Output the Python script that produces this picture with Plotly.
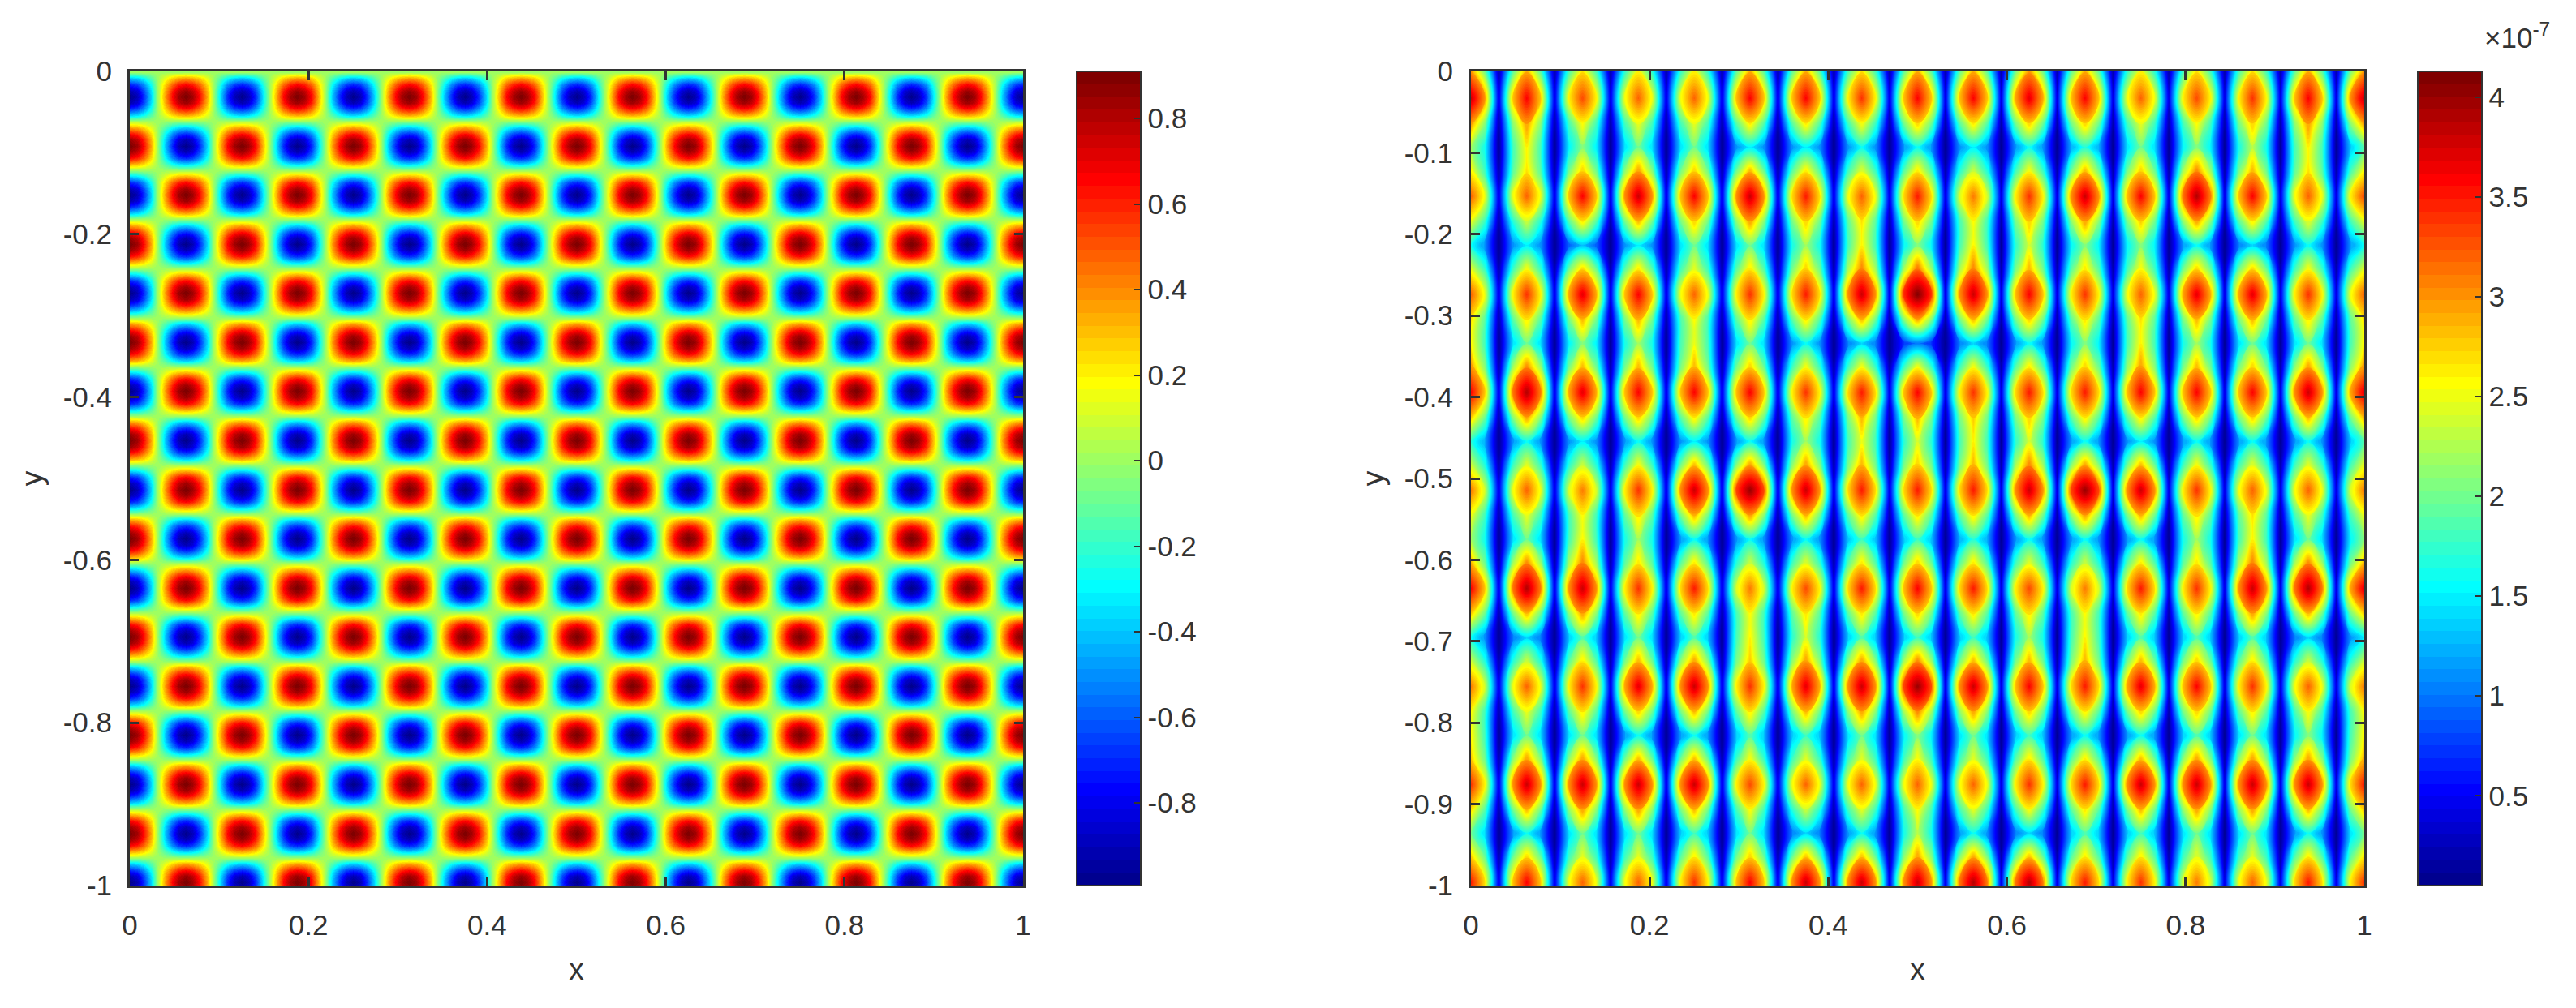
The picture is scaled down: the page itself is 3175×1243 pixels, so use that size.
"""Two jet heatmaps with colour bars: a checkerboard field and a wavy stripe field."""

import numpy as np
import plotly.graph_objects as go

# the page body adds 8 px on every side, so the figure is 16 px smaller than the window
WIDTH = 3159
HEIGHT = 1227
TEXT = "#333333"
FONT = "Liberation Sans"

x_ticks_left = [0, 0.2, 0.4, 0.6, 0.8, 1]
x_labels = ["0", "0.2", "0.4", "0.6", "0.8", "1"]
y_ticks_left = [0, -0.2, -0.4, -0.6, -0.8, -1]
y_labels_left = ["0", "-0.2", "-0.4", "-0.6", "-0.8", "-1"]
y_ticks_right = [0, -0.1, -0.2, -0.3, -0.4, -0.5, -0.6, -0.7, -0.8, -0.9, -1]
y_labels_right = ["0", "-0.1", "-0.2", "-0.3", "-0.4", "-0.5", "-0.6", "-0.7", "-0.8", "-0.9", "-1"]
cbar_ticks_left = [-0.8, -0.6, -0.4, -0.2, 0, 0.2, 0.4, 0.6, 0.8]
cbar_labels_left = ["-0.8", "-0.6", "-0.4", "-0.2", "0", "0.2", "0.4", "0.6", "0.8"]
cbar_ticks_right = [0.5, 1, 1.5, 2, 2.5, 3, 3.5, 4]
cbar_labels_right = ["0.5", "1", "1.5", "2", "2.5", "3", "3.5", "4"]

# left panel: one x period of the checkerboard for each row level
ROW_Z = [0] * 16
ROW_A0 = [-.99, -.91, -.70, -.38, 0, .35, .65, .84, .91, .84, .65, .35, 0, -.38, -.70, -.91]
ROW_A1 = [-.91, -.84, -.64, -.35, 0, .32, .60, .77, .84, .77, .60, .32, 0, -.35, -.64, -.84]
ROW_A2 = [-.70, -.65, -.50, -.27, 0, .25, .46, .60, .65, .60, .46, .25, 0, -.27, -.50, -.65]
ROW_A3 = [-.38, -.35, -.27, -.14, 0, .13, .25, .32, .35, .32, .25, .13, 0, -.14, -.27, -.35]
ROW_B0 = [.91, .84, .65, .35, 0, -.38, -.70, -.91, -.99, -.91, -.70, -.38, 0, .35, .65, .84]
ROW_B1 = [.84, .77, .60, .32, 0, -.35, -.64, -.84, -.91, -.84, -.64, -.35, 0, .32, .60, .77]
ROW_B2 = [.65, .60, .46, .25, 0, -.27, -.50, -.65, -.70, -.65, -.50, -.27, 0, .25, .46, .60]
ROW_B3 = [.35, .32, .25, .13, 0, -.14, -.27, -.35, -.38, -.35, -.27, -.14, 0, .13, .25, .32]
ROW_CYCLE = [ROW_A0, ROW_A1, ROW_A2, ROW_A3, ROW_Z, ROW_B3, ROW_B2, ROW_B1,
             ROW_B0, ROW_B1, ROW_B2, ROW_B3, ROW_Z, ROW_A3, ROW_A2, ROW_A1]

# right panel, units of 1e-8: value on each of the 17 bright columns, row by row
center_right = [
    [30, 29, 27, 26, 26, 29, 29, 27, 29, 29, 30, 29, 26, 27, 27, 29, 30],
    [38, 36, 33, 32, 32, 36, 36, 34, 36, 36, 37, 36, 32, 33, 34, 36, 38],
    [30, 30, 26, 25, 25, 27, 27, 26, 28, 27, 28, 28, 25, 26, 28, 30, 30],
    [22, 26, 21, 20, 20, 15, 15, 16, 16, 15, 16, 17, 20, 21, 23, 26, 19],
    [26, 27, 28, 30, 28, 29, 27, 25, 27, 24, 26, 29, 28, 31, 29, 27, 26],
    [32, 32, 36, 38, 36, 38, 35, 32, 35, 31, 34, 38, 36, 39, 36, 32, 33],
    [25, 24, 27, 29, 28, 30, 28, 27, 28, 26, 28, 30, 28, 30, 27, 25, 25],
    [16, 15, 13, 15, 20, 20, 22, 26, 21, 26, 24, 21, 21, 16, 14, 16, 16],
    [25, 26, 28, 27, 25, 27, 28, 31, 32, 31, 29, 27, 26, 28, 28, 26, 25],
    [32, 34, 37, 36, 32, 34, 35, 38, 41, 38, 36, 34, 32, 37, 37, 34, 32],
    [27, 27, 29, 29, 26, 27, 27, 29, 30, 29, 28, 27, 27, 29, 29, 27, 27],
    [26, 20, 21, 22, 25, 20, 16, 14, 10, 14, 16, 21, 26, 22, 20, 20, 26],
    [30, 31, 29, 29, 29, 28, 26, 26, 26, 26, 27, 28, 30, 29, 28, 30, 30],
    [36, 39, 37, 36, 36, 36, 34, 35, 36, 34, 35, 35, 36, 36, 36, 38, 37],
    [28, 30, 28, 28, 27, 28, 27, 29, 29, 28, 28, 27, 27, 28, 28, 29, 29],
    [17, 16, 15, 16, 15, 16, 22, 25, 24, 26, 24, 16, 15, 16, 16, 16, 19],
    [24, 25, 24, 26, 29, 30, 30, 29, 28, 29, 31, 30, 29, 26, 25, 25, 25],
    [31, 32, 31, 34, 38, 40, 38, 35, 35, 35, 38, 40, 38, 34, 32, 32, 31],
    [25, 25, 26, 27, 29, 30, 29, 27, 27, 27, 29, 30, 29, 27, 27, 25, 25],
    [22, 20, 26, 22, 16, 16, 16, 18, 18, 17, 16, 16, 16, 22, 26, 20, 21],
    [29, 31, 31, 27, 27, 24, 25, 27, 28, 27, 25, 24, 27, 27, 31, 31, 29],
    [36, 39, 38, 34, 35, 31, 33, 35, 36, 35, 33, 31, 35, 34, 38, 39, 37],
    [28, 29, 30, 27, 27, 26, 27, 27, 28, 27, 27, 26, 27, 27, 30, 29, 28],
    [16, 14, 19, 20, 19, 26, 24, 19, 18, 18, 22, 26, 19, 19, 19, 14, 15],
    [24, 24, 27, 29, 30, 28, 30, 30, 31, 29, 29, 29, 29, 28, 27, 24, 24],
    [31, 32, 34, 37, 38, 34, 37, 38, 40, 38, 36, 35, 37, 36, 34, 32, 31],
    [26, 25, 27, 28, 29, 27, 29, 30, 31, 30, 28, 27, 28, 28, 27, 26, 26],
    [26, 20, 20, 16, 16, 19, 18, 20, 21, 20, 18, 16, 16, 19, 20, 21, 26],
    [28, 30, 30, 29, 29, 26, 25, 25, 26, 25, 27, 27, 29, 30, 30, 30, 29],
    [34, 38, 38, 38, 38, 33, 32, 32, 32, 32, 34, 35, 38, 38, 38, 38, 35],
    [27, 29, 30, 30, 29, 26, 24, 25, 26, 25, 26, 27, 29, 30, 30, 29, 28],
    [20, 16, 20, 20, 18, 20, 14, 16, 23, 16, 14, 19, 18, 20, 20, 16, 20],
    [28, 28, 25, 25, 27, 28, 29, 29, 30, 30, 29, 27, 27, 25, 25, 27, 27],
    [35, 36, 32, 32, 34, 36, 38, 38, 38, 39, 39, 35, 34, 31, 32, 35, 34],
    [28, 29, 26, 26, 27, 29, 30, 30, 30, 31, 31, 28, 27, 25, 26, 28, 27],
]

# value on the shoulders either side of each bright column
shoulder_right = [
    [20, 19, 18, 17, 17, 19, 19, 18, 19, 19, 20, 19, 17, 18, 18, 19, 20],
    [30, 28, 26, 25, 25, 28, 28, 26, 28, 28, 29, 28, 25, 26, 26, 28, 30],
    [21, 21, 18, 18, 18, 19, 19, 18, 20, 19, 20, 20, 18, 18, 20, 21, 21],
    [16, 18, 15, 14, 14, 11, 11, 11, 11, 11, 11, 12, 14, 15, 16, 18, 13],
    [18, 19, 20, 21, 20, 20, 19, 18, 19, 17, 18, 20, 20, 22, 20, 19, 18],
    [25, 25, 28, 30, 28, 30, 27, 25, 27, 24, 26, 30, 28, 31, 28, 25, 26],
    [18, 17, 19, 20, 20, 21, 20, 19, 20, 18, 20, 21, 20, 21, 19, 18, 18],
    [11, 11, 9, 11, 14, 14, 16, 18, 15, 18, 17, 15, 15, 11, 10, 11, 11],
    [18, 18, 20, 19, 18, 19, 20, 22, 22, 22, 20, 19, 18, 20, 20, 18, 18],
    [25, 26, 29, 28, 25, 26, 27, 30, 34, 30, 28, 26, 25, 29, 29, 26, 25],
    [19, 19, 20, 20, 18, 19, 19, 20, 21, 20, 20, 19, 19, 20, 20, 19, 19],
    [18, 14, 15, 16, 18, 14, 11, 10, 7, 10, 11, 15, 18, 16, 14, 14, 18],
    [21, 22, 20, 20, 20, 20, 18, 18, 18, 18, 19, 20, 21, 20, 20, 21, 21],
    [28, 31, 29, 28, 28, 28, 26, 27, 28, 26, 27, 27, 28, 28, 28, 30, 29],
    [20, 21, 20, 20, 19, 20, 19, 20, 20, 20, 20, 19, 19, 20, 20, 20, 20],
    [12, 11, 11, 11, 11, 11, 16, 18, 17, 18, 17, 11, 11, 11, 11, 11, 13],
    [17, 18, 17, 18, 20, 21, 21, 20, 20, 20, 22, 21, 20, 18, 18, 18, 18],
    [24, 25, 24, 26, 30, 33, 30, 27, 27, 27, 30, 33, 30, 26, 25, 25, 24],
    [18, 18, 18, 19, 20, 21, 20, 19, 19, 19, 20, 21, 20, 19, 19, 18, 18],
    [16, 14, 18, 16, 11, 11, 11, 13, 13, 12, 11, 11, 11, 16, 18, 14, 15],
    [20, 22, 22, 19, 19, 17, 18, 19, 20, 19, 18, 17, 19, 19, 22, 22, 20],
    [28, 31, 30, 26, 27, 24, 26, 27, 28, 27, 26, 24, 27, 26, 30, 31, 29],
    [20, 20, 21, 19, 19, 18, 19, 19, 20, 19, 19, 18, 19, 19, 21, 20, 20],
    [11, 10, 13, 14, 13, 18, 17, 13, 13, 13, 16, 18, 13, 13, 13, 10, 11],
    [17, 17, 19, 20, 21, 20, 21, 21, 22, 20, 20, 20, 20, 20, 19, 17, 17],
    [24, 25, 26, 29, 30, 26, 29, 30, 33, 30, 28, 27, 29, 28, 26, 25, 24],
    [18, 18, 19, 20, 20, 19, 20, 21, 22, 21, 20, 19, 20, 20, 19, 18, 18],
    [18, 14, 14, 11, 11, 13, 13, 14, 15, 14, 13, 11, 11, 13, 14, 15, 18],
    [20, 21, 21, 20, 20, 18, 18, 18, 18, 18, 19, 19, 20, 21, 21, 21, 20],
    [26, 30, 30, 30, 30, 26, 25, 25, 25, 25, 26, 27, 30, 30, 30, 30, 27],
    [19, 20, 21, 21, 20, 18, 17, 18, 18, 18, 18, 19, 20, 21, 21, 20, 20],
    [14, 11, 14, 14, 13, 14, 10, 11, 16, 11, 10, 13, 13, 14, 14, 11, 14],
    [20, 20, 18, 18, 19, 20, 20, 20, 21, 21, 20, 19, 19, 18, 18, 19, 19],
    [27, 28, 25, 25, 26, 28, 30, 30, 30, 31, 31, 27, 26, 24, 25, 27, 26],
    [18, 19, 17, 17, 18, 19, 20, 20, 20, 20, 20, 18, 18, 16, 17, 18, 18],
]

# value in the dark stripes between the bright columns, one per row
stripe_right = [2, 4, 2, 1, 2, 4, 2, 1, 2, 4, 2, 1, 2, 4, 2, 1, 2, 4,
                2, 1, 2, 4, 2, 1, 2, 4, 2, 1, 2, 4, 2, 1, 2, 4, 2]


def jet_colorscale(levels=64):
    """Stepped MATLAB-style jet colour scale."""
    scale = []
    for i in range(levels):
        v = (i + 1) / levels
        r = np.clip(min(4 * v - 1.5, -4 * v + 4.5), 0, 1)
        g = np.clip(min(4 * v - 0.5, -4 * v + 3.5), 0, 1)
        b = np.clip(min(4 * v + 0.5, -4 * v + 2.5), 0, 1)
        color = f"rgb({r * 255:.0f},{g * 255:.0f},{b * 255:.0f})"
        scale.append([i / levels, color])
        scale.append([(i + 1) / levels, color])
    return scale


def repeat_left_rows():
    lead = [ROW_Z, ROW_A3, ROW_A2, ROW_A1]
    rows = lead + ROW_CYCLE * 8 + [ROW_A0, ROW_A1]
    return [row * 8 + [row[0]] for row in rows]


def assemble_right_rows():
    rows = []
    for centers, shoulders, stripe in zip(center_right, shoulder_right, stripe_right):
        row = []
        for k in range(16):
            row += [centers[k], shoulders[k], stripe, shoulders[k + 1]]
        row.append(centers[16])
        rows.append(row)
    return np.array(rows) / 10


def colorbar(left_px, tickvals, ticktext):
    return {
        "x": left_px / WIDTH,
        "xanchor": "left",
        "xpad": 0,
        "y": (HEIGHT - 1084) / HEIGHT,
        "yanchor": "bottom",
        "ypad": 0,
        "len": 1004 / HEIGHT,
        "lenmode": "fraction",
        "thickness": 79,
        "thicknessmode": "pixels",
        "outlinecolor": "#333333",
        "outlinewidth": 2,
        "tickmode": "array",
        "tickvals": tickvals,
        "ticktext": ticktext,
        "ticks": "inside",
        "ticklen": 9,
        "tickwidth": 2,
        "tickcolor": "#333333",
        "tickfont": {"family": FONT, "size": 35, "color": TEXT},
    }


z_left = repeat_left_rows()
x_left = [i / 128 for i in range(129)]
y_left = [-0.0008 - 0.00754 * i for i in range(len(z_left))]

z_right = assemble_right_rows()
x_right = [i / 64 for i in range(65)]
y_right = [0.0] + [-0.003 - 0.0301 * i for i in range(1, len(z_right))]

fig = go.Figure()
fig.add_trace(
    go.Heatmap(
        x=x_left,
        y=y_left,
        z=z_left,
        zmin=-0.993,
        zmax=0.91,
        zsmooth="best",
        colorscale=jet_colorscale(),
        colorbar=colorbar(1319, cbar_ticks_left, cbar_labels_left),
        xaxis="x",
        yaxis="y",
    )
)
# filled contours with spline smoothing keep the blobs round at this grid size
fig.add_trace(
    go.Contour(
        x=x_right,
        y=y_right,
        z=z_right,
        zmin=0.05,
        zmax=4.13,
        autocontour=False,
        contours={"start": 0.05, "end": 4.13, "size": 4.08 / 64, "coloring": "fill", "showlines": False},
        line={"width": 0, "smoothing": 1.3},
        colorscale=jet_colorscale(),
        colorbar=colorbar(2972, cbar_ticks_right, cbar_labels_right),
        xaxis="x2",
        yaxis="y2",
    )
)


def axis_style(domain, anchor, rng, tickvals, ticktext, title, label_gap, title_gap):
    return {
        "domain": domain,
        "anchor": anchor,
        "range": rng,
        "tickmode": "array",
        "tickvals": tickvals,
        "ticktext": ticktext,
        "ticks": "inside",
        "ticklen": 11,
        "tickwidth": 3,
        "tickcolor": "#333333",
        "showline": True,
        "linewidth": 3,
        "linecolor": "#333333",
        "mirror": "allticks",
        "showgrid": False,
        "zeroline": False,
        "ticklabelstandoff": label_gap,
        "tickfont": {"family": FONT, "size": 35, "color": TEXT},
        "title": {"text": title, "font": {"family": FONT, "size": 37, "color": TEXT}, "standoff": title_gap},
    }


y_domain = [(HEIGHT - 1084) / HEIGHT, (HEIGHT - 80) / HEIGHT]
fig.update_layout(
    width=WIDTH,
    height=HEIGHT,
    margin={"l": 0, "r": 0, "t": 0, "b": 0, "autoexpand": False},
    paper_bgcolor="white",
    plot_bgcolor="white",
    xaxis=axis_style([152 / WIDTH, 1253 / WIDTH], "y", [0, 1], x_ticks_left, x_labels, "x", 16, 24),
    yaxis=axis_style(y_domain, "x", [-1, 0], y_ticks_left, y_labels_left, "y", 12, 14),
    xaxis2=axis_style([1805 / WIDTH, 2906 / WIDTH], "y2", [0, 1], x_ticks_left, x_labels, "x", 16, 24),
    yaxis2=axis_style(y_domain, "x2", [-1, 0], y_ticks_right, y_labels_right, "y", 12, 14),
    annotations=[
        {
            "text": "×10<sup>-7</sup>",
            "xref": "paper",
            "yref": "paper",
            "x": 3052 / WIDTH,
            "y": (HEIGHT - 60) / HEIGHT,
            "xanchor": "left",
            "yanchor": "bottom",
            "showarrow": False,
            "font": {"family": FONT, "size": 35, "color": TEXT},
        }
    ],
)

fig.write_html("out.html")
